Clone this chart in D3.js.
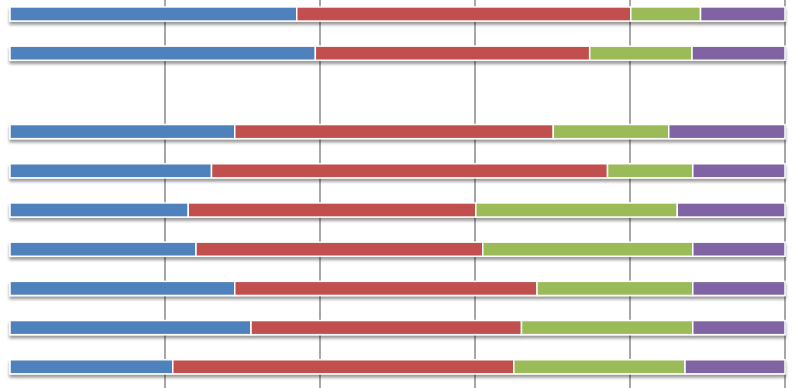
<!DOCTYPE html>
<html>
<head>
<meta charset="utf-8">
<script src="https://cdn.jsdelivr.net/npm/d3@7"></script>
<style>
  body { margin: 0; background: #fff; }
  #chart { width: 795px; height: 388px; }
</style>
</head>
<body>
<div id="chart"></div>
<script>
// Categories top to bottom; one row has no data
let categories = ["A", "B", "C", "D", "E", "F", "G", "H", "I", "J"];
let seriesNames = ["s1", "s2", "s3", "s4"];
let s1 = [37.0, 39.4, null, 29.0, 26.0, 23.0, 24.0, 29.0, 31.1, 21.0];
let s2 = [43.1, 35.4, null, 41.1, 51.1, 37.1, 37.0, 39.0, 34.9, 44.0];
let s3 = [9.0, 13.2, null, 14.9, 11.0, 26.0, 27.1, 20.1, 22.1, 22.1];
let s4 = [10.9, 12.0, null, 15.0, 11.9, 13.9, 11.9, 11.9, 11.9, 12.9];
let gridTicks = [20, 40, 60, 80, 100];
let colors = ["#4F81BD", "#C0504D", "#9BBB59", "#8064A2"];

function initChart() {
    let container = d3.select("#chart");
    let width = 795, height = 388;

    let svg = container.append("svg")
        .attr("width", width)
        .attr("height", height);

    // drop shadow under the bars
    let defs = svg.append("defs");
    defs.append("filter")
        .attr("id", "shadow")
        .attr("x", "-5%").attr("y", "-50%")
        .attr("width", "110%").attr("height", "200%")
        .append("feDropShadow")
        .attr("dx", 0).attr("dy", 3)
        .attr("stdDeviation", 1.6)
        .attr("flood-color", "#000")
        .attr("flood-opacity", 0.4);

    let xScale = d3.scaleLinear().domain([0, 100]).range([10, 785]);
    let yScale = d3.scaleBand()
        .domain(categories)
        .range([-5.6, 386.4])
        .paddingInner(0.64)
        .paddingOuter(0.32);

    // vertical gridlines
    svg.append("g")
        .selectAll("line")
        .data(gridTicks)
        .join("line")
        .attr("x1", d => xScale(d))
        .attr("x2", d => xScale(d))
        .attr("y1", 0)
        .attr("y2", height)
        .attr("stroke", "#8a8a8a")
        .attr("stroke-width", 1.5);

    let rows = categories.map((c, i) => {
        let r = { cat: c };
        r.s1 = s1[i]; r.s2 = s2[i]; r.s3 = s3[i]; r.s4 = s4[i];
        return r;
    }).filter(r => r.s1 != null);

    let stack = d3.stack().keys(seriesNames)(rows);

    let rowG = svg.append("g")
        .selectAll("g")
        .data(rows)
        .join("g")
        .attr("filter", "url(#shadow)");

    rowG.selectAll("rect")
        .data(r => stack.map((layer, k) => {
            let d = layer.find(p => p.data.cat === r.cat);
            return { cat: r.cat, x0: d[0], x1: d[1], k: k };
        }))
        .join("rect")
        .attr("x", d => xScale(d.x0))
        .attr("width", d => xScale(d.x1) - xScale(d.x0))
        .attr("y", d => yScale(d.cat))
        .attr("height", yScale.bandwidth())
        .attr("fill", d => colors[d.k])
        .attr("stroke", "#fff")
        .attr("stroke-width", 1.5);
}

initChart();
</script>
</body>
</html>
